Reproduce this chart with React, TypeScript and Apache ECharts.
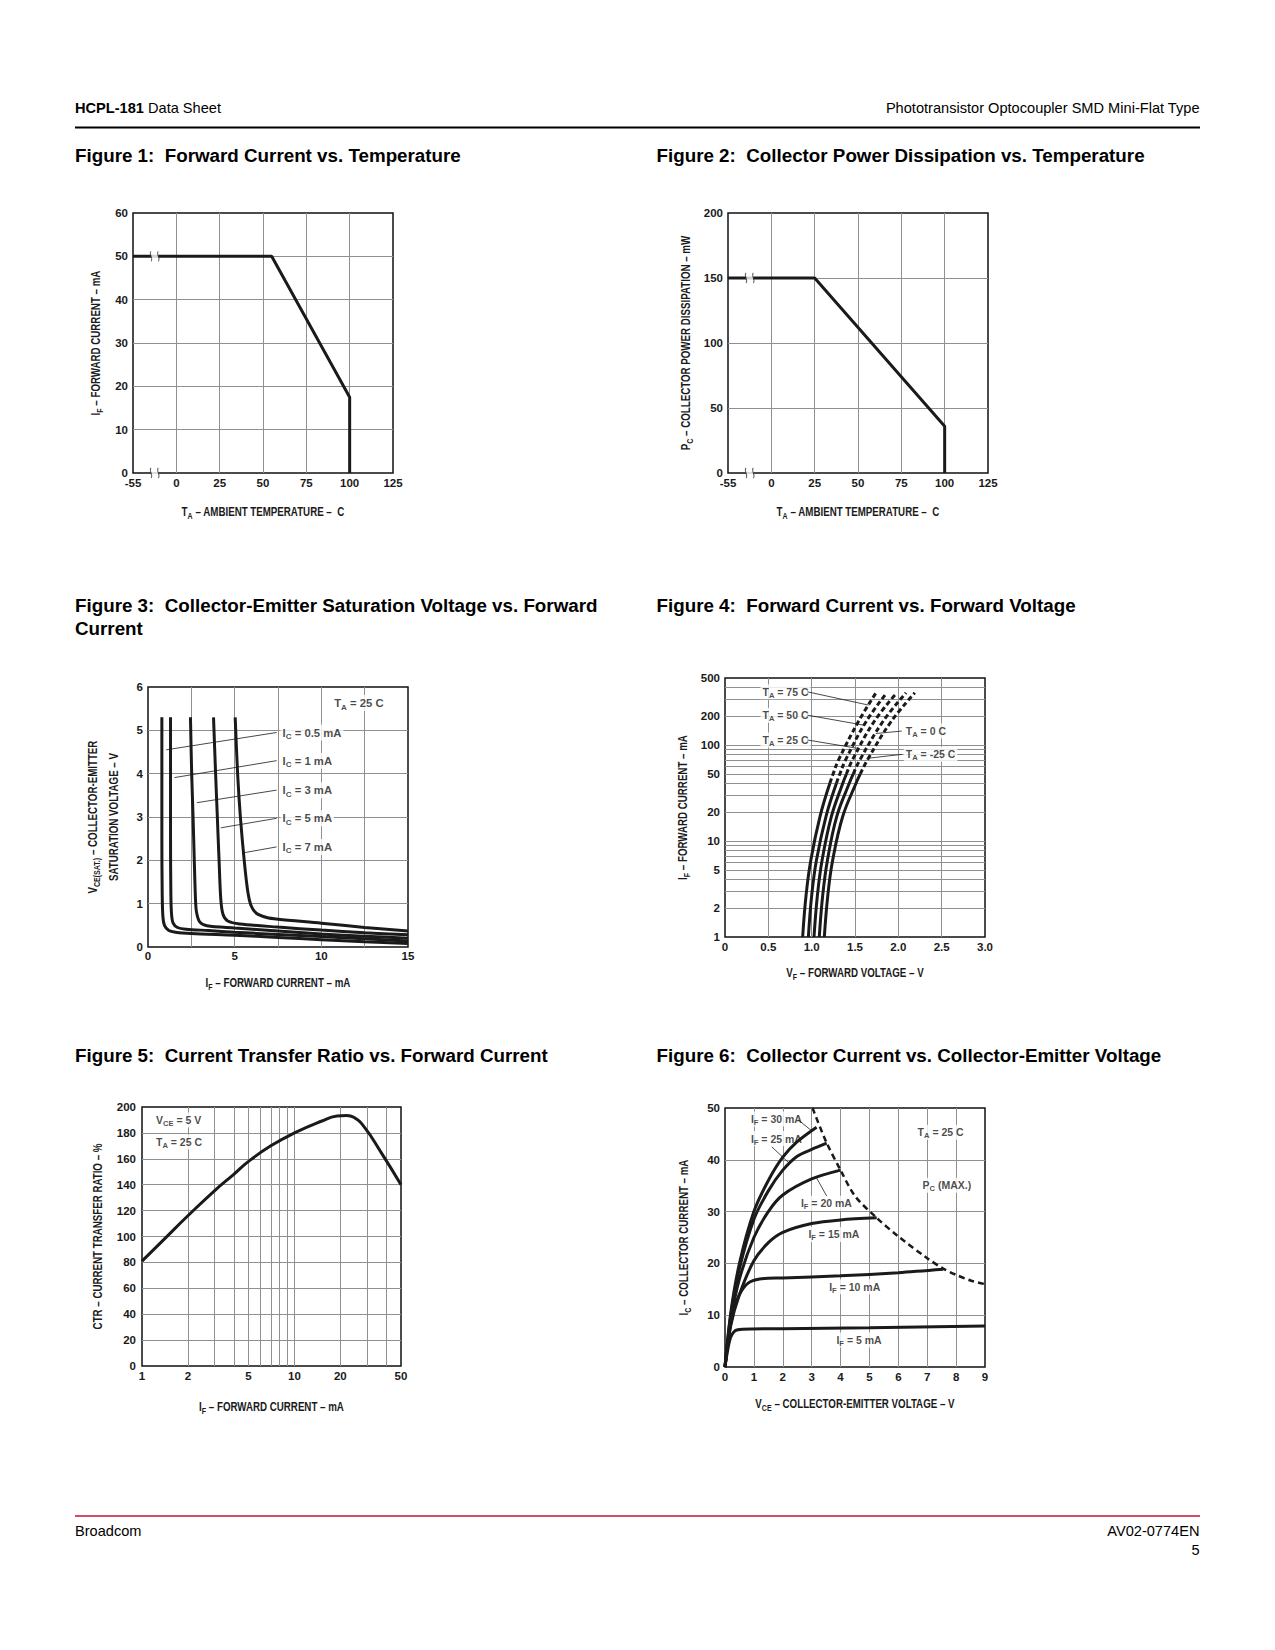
import React, { useEffect, useRef } from "react";
import * as echarts from "echarts";

// ================= DATA =================
// Figure 1: forward current vs temperature
const f1Temp = [-55, 55, 100, 100];
const f1Current = [50, 50, 17.5, 0];
const f1YMax = 60;
// Figure 2: collector power dissipation vs temperature
const f2Temp = [-55, 25, 100, 100];
const f2Power = [150, 150, 36, 0];
const f2YMax = 200;
const tempTicks = [-55, 0, 25, 50, 75, 100, 125];
const breakTemp = -27.5; // axis-break mark position (between -55 and 0)

// Figure 3: VCE(sat) vs IF, one curve per IC
const f3IcNames = ["0.5", "1", "3", "5", "7"];
const f3If05 = [0.8, 0.8, 0.82, 0.86, 0.95, 1.2, 1.6, 2.5, 5, 7.5, 10, 12.5, 15];
const f3V05 = [5.3, 2.5, 1.2, 0.7, 0.5, 0.38, 0.34, 0.31, 0.27, 0.22, 0.17, 0.12, 0.08];
const f3If1 = [1.3, 1.3, 1.32, 1.36, 1.45, 1.7, 2.2, 3.5, 5, 7.5, 10, 12.5, 15];
const f3V1 = [5.3, 2.5, 1.2, 0.75, 0.55, 0.45, 0.41, 0.38, 0.34, 0.29, 0.24, 0.19, 0.14];
const f3If3 = [2.45, 2.52, 2.6, 2.67, 2.74, 2.8, 2.98, 3.4, 5, 7.5, 10, 12.5, 15];
const f3V3 = [5.3, 4, 3, 2, 1.1, 0.8, 0.58, 0.49, 0.44, 0.37, 0.3, 0.25, 0.2];
const f3If5 = [3.78, 3.9, 4.0, 4.1, 4.2, 4.33, 4.6, 5.3, 7.5, 10, 12.5, 15];
const f3V5 = [5.3, 4, 3, 2, 1.1, 0.75, 0.6, 0.53, 0.46, 0.39, 0.33, 0.28];
const f3If7 = [5.03, 5.17, 5.33, 5.55, 5.75, 5.95, 6.25, 6.85, 7.5, 10, 12.5, 15];
const f3V7 = [5.3, 4, 3, 2, 1.3, 0.95, 0.78, 0.68, 0.64, 0.55, 0.45, 0.37];
const f3LabelX = 7.62;
const f3LabelY = [4.95, 4.3, 3.62, 2.97, 2.31];
const f3LeaderFromX = 7.42;
const f3LeaderToX = [1.05, 1.53, 2.82, 4.2, 5.6];
const f3LeaderToY = [4.55, 3.91, 3.33, 2.75, 2.18];

// Figure 4: IF vs VF (log IF), one curve per TA
const f4TempNames = ["75", "50", "25", "0", "-25"];
const f4If = [1, 2.7, 6.3, 18, 40, 50, 70, 175, 350];
const f4V75 = [0.896, 0.935, 0.99, 1.096, 1.21, 1.247, 1.31, 1.538, 1.742];
const f4V50 = [0.962, 1.0, 1.055, 1.165, 1.286, 1.325, 1.391, 1.627, 1.866];
const f4V25 = [1.027, 1.066, 1.12, 1.227, 1.359, 1.401, 1.47, 1.719, 1.981];
const f4V0 = [1.088, 1.127, 1.182, 1.289, 1.434, 1.48, 1.556, 1.82, 2.088];
const f4Vm25 = [1.146, 1.186, 1.242, 1.358, 1.512, 1.561, 1.643, 1.915, 2.19];
const f4SolidEnd = [4, 4, 5, 5, 5];
const f4YLabels = [1, 2, 5, 10, 20, 50, 100, 200, 500];
const f4YGrid = [1, 2, 3, 4, 5, 6, 7, 8, 9, 10, 20, 30, 40, 50, 60, 70, 80, 90, 100, 200, 300, 400, 500];
const f4LabelX = [0.404, 0.404, 0.404, 2.057, 2.057];
const f4LabelY = [359, 205, 113, 140, 80];
const f4LeaderFromX = [0.95, 0.95, 0.95, 2.04, 2.04];
const f4LeaderToX = [1.656, 1.606, 1.545, 1.739, 1.655];
const f4LeaderToY = [261, 161, 92, 132, 73];

// Figure 5: CTR vs IF (log IF)
const f5If = [1, 1.4, 2, 3, 4, 5, 7, 10, 15, 19, 22, 24.5, 28.5, 37, 50];
const f5Ctr = [81, 98, 116, 135.5, 148, 158, 170, 180, 189, 193, 193.5, 192, 185, 165, 140];
const f5XLabels = [1, 2, 5, 10, 20, 50];
const f5XGrid = [1, 2, 3, 4, 5, 6, 7, 8, 9, 10, 20, 30, 40, 50];

// Figure 6: IC vs VCE, one curve per IF
const f6Vce5 = [0, 0.1, 0.2, 0.35, 0.6, 2, 5, 9];
const f6Ic5 = [0, 3.5, 5.8, 7.0, 7.3, 7.4, 7.6, 7.9];
const f6Vce10 = [0, 0.1, 0.3, 0.5, 0.8, 1.2, 2, 4, 6, 7.55];
const f6Ic10 = [0, 5, 11, 14, 16.2, 17, 17.2, 17.6, 18.2, 18.85];
const f6Vce15 = [0, 0.2, 0.5, 1, 1.5, 2, 3, 4, 5.25];
const f6Ic15 = [0, 8, 14, 20.5, 24, 26, 27.7, 28.4, 28.8];
const f6Vce20 = [0, 0.2, 0.5, 1, 1.5, 2, 3, 4];
const f6Ic20 = [0, 9, 17, 25, 30, 33.2, 36.3, 38];
const f6Vce25 = [0, 0.2, 0.5, 1, 1.5, 2, 2.5, 3, 3.52];
const f6Ic25 = [0, 10, 19, 28.5, 34, 38, 40.7, 42, 43.2];
const f6Vce30 = [0, 0.2, 0.5, 1, 1.5, 2, 2.5, 3.17];
const f6Ic30 = [0, 10.5, 20, 30, 36, 40.5, 43.5, 46.3];
const f6PmaxV = [3.03, 3.5, 4, 4.5, 5.25, 6, 7, 7.55, 8, 8.5, 9];
const f6PmaxI = [50, 43.5, 38, 33, 28.8, 25.2, 21, 19, 17.8, 16.7, 16];

// ================= STYLE =================
const INK = "#1a1a1a";
const GRID = "#8f8f8f";
const F = "'Liberation Sans',Arial,Helvetica,sans-serif";
const SANS = "'Liberation Sans',Arial,Helvetica,sans-serif";
const BREAK_PATH = "path://M2,0 C0,3 4,7 2,10 M7,0 C5,3 9,7 7,10";
const NAME_SCALE = 0.78;

const rich = (fs: number, lh: number) => ({
  m: { fontFamily: F, fontWeight: "bold", fontSize: fs, lineHeight: lh, color: INK, fill: INK },
  m2: { fontFamily: F, fontWeight: "bold", fontSize: fs, lineHeight: lh, color: INK, fill: INK },
  s: { fontFamily: F, fontWeight: "bold", fontSize: Math.round(fs * 0.72 * 10) / 10, lineHeight: Math.round(lh * 0.55), verticalAlign: "bottom", color: INK, fill: INK },
});
const sub = (a: string, b: string, c: string) => `{m|${a}}{s|${b}}{m|${c}}`;

const tpos = (t: number) => (t < 0 ? (t * 25) / 55 : t);
const zip = (xs: number[], ys: number[]) => xs.map((x, i) => [x, ys[i]]);

function makeAxis(gi: number, o: any) {
  return {
    type: "value",
    gridIndex: gi,
    axisLine: { show: false },
    axisTick: { show: false, ...(o.tickCustom ? { customValues: o.tickCustom } : {}) },
    splitLine: { show: true, showMinLine: false, showMaxLine: false, lineStyle: { color: GRID, width: 1 } },
    axisLabel: {
      fontFamily: F, fontWeight: "bold", fontSize: 11.5, color: INK, margin: o.margin,
      formatter: o.formatter,
      ...(o.labelCustom ? { customValues: o.labelCustom } : {}),
    },
    min: o.min, max: o.max,
    ...(o.interval !== undefined ? { interval: o.interval } : {}),
  };
}

function curve(gi: number, data: number[][], o: any = {}) {
  return {
    type: "line", xAxisIndex: gi, yAxisIndex: gi, data, symbol: "none", silent: true,
    smooth: o.smooth ?? 0, z: 3,
    lineStyle: { color: INK, width: o.width ?? 3, type: o.dash ?? "solid", cap: "butt" },
  };
}

function leader(gi: number, x1: number, y1: number, x2: number, y2: number) {
  return {
    type: "line", xAxisIndex: gi, yAxisIndex: gi, data: [[x1, y1], [x2, y2]], symbol: "none", silent: true, z: 3,
    lineStyle: { color: INK, width: 0.8 },
  };
}

function labels(gi: number, fs: number, pts: { x: number; y: number; t: string }[]) {
  return {
    type: "scatter", xAxisIndex: gi, yAxisIndex: gi, symbolSize: 1, silent: true, z: 2,
    itemStyle: { color: "rgba(0,0,0,0)" },
    data: pts.map((p) => ({
      value: [p.x, p.y],
      label: {
        show: true, formatter: p.t, position: "right", distance: 0, backgroundColor: "#fff", padding: [0, 2],
        fontFamily: F, fontWeight: "bold", fontSize: fs, color: INK,
        rich: rich(fs, Math.round(fs * 1.4)),
      },
    })),
  };
}

function breakMarks(gi: number, ys: number[]) {
  const d = ys.map((y) => [tpos(breakTemp), y]);
  return [
    { type: "scatter", xAxisIndex: gi, yAxisIndex: gi, data: d, symbol: "rect", symbolSize: [7, 8], silent: true, z: 4, itemStyle: { color: "#fff" } },
    { type: "scatter", xAxisIndex: gi, yAxisIndex: gi, data: d, symbol: BREAK_PATH, symbolSize: [9, 10], silent: true, z: 5, itemStyle: { color: "rgba(0,0,0,0)", borderColor: "#333", borderWidth: 1 } },
  ];
}

function buildOption() {
  const grids = [
    { left: 133, top: 213, width: 260, height: 260 },
    { left: 728, top: 213, width: 260, height: 260 },
    { left: 148, top: 687, width: 260, height: 260 },
    { left: 725, top: 678, width: 260, height: 259 },
    { left: 142, top: 1107, width: 259, height: 259 },
    { left: 725, top: 1108, width: 260, height: 259 },
  ].map((g) => ({ ...g, show: true, borderColor: "#111", borderWidth: 1.5, backgroundColor: "transparent", containLabel: false, outerBoundsMode: "none" }));

  const tempFmt = (v: number) => (v === -25 ? String(tempTicks[0]) : String(v));
  const lg = (v: number) => Math.log10(v);
  const pw = (v: number) => String(Math.round(Math.pow(10, v)));
  const str = (v: number) => String(v);

  const xAxis = [
    makeAxis(0, { min: -25, max: 125, interval: 25, margin: 4, formatter: tempFmt }),
    makeAxis(1, { min: -25, max: 125, interval: 25, margin: 4, formatter: tempFmt }),
    makeAxis(2, { min: 0, max: 15, interval: 2.5, margin: 3, formatter: (v: number) => (v % 5 === 0 ? String(v) : "") }),
    makeAxis(3, { min: 0, max: 3, interval: 0.5, margin: 4, formatter: (v: number) => (v === 0 ? "0" : v.toFixed(1)) }),
    makeAxis(4, { min: 0, max: lg(50), margin: 4, formatter: pw, labelCustom: f5XLabels.map(lg), tickCustom: f5XGrid.map(lg) }),
    makeAxis(5, { min: 0, max: 9, interval: 1, margin: 4, formatter: str }),
  ];
  const yAxis = [
    makeAxis(0, { min: 0, max: f1YMax, interval: 10, margin: 5, formatter: str }),
    makeAxis(1, { min: 0, max: f2YMax, interval: 50, margin: 5, formatter: str }),
    makeAxis(2, { min: 0, max: 6, interval: 1, margin: 5, formatter: str }),
    makeAxis(3, { min: 0, max: lg(500), margin: 5, formatter: pw, labelCustom: f4YLabels.map(lg), tickCustom: f4YGrid.map(lg) }),
    makeAxis(4, { min: 0, max: 200, interval: 20, margin: 6, formatter: str }),
    makeAxis(5, { min: 0, max: 50, interval: 10, margin: 5, formatter: str }),
  ];

  const series: any[] = [];
  // Figure 1
  series.push(curve(0, f1Temp.map((t, i) => [tpos(t), f1Current[i]]), { width: 3 }));
  series.push(...breakMarks(0, [f1Current[0], 0]));
  // Figure 2
  series.push(curve(1, f2Temp.map((t, i) => [tpos(t), f2Power[i]]), { width: 3 }));
  series.push(...breakMarks(1, [f2Power[0], 0]));

  // Figure 3
  const f3 = [zip(f3If05, f3V05), zip(f3If1, f3V1), zip(f3If3, f3V3), zip(f3If5, f3V5), zip(f3If7, f3V7)];
  f3.forEach((d) => series.push(curve(2, d, { smooth: 0.3, width: 3 })));
  f3IcNames.forEach((n, i) => series.push(leader(2, f3LeaderFromX, f3LabelY[i], f3LeaderToX[i], f3LeaderToY[i])));
  series.push(labels(2, 11.3, [
    ...f3IcNames.map((n, i) => ({ x: f3LabelX, y: f3LabelY[i], t: sub("I", "C", ` = ${n} mA`) })),
    { x: 10.6, y: 5.63, t: sub("T", "A", " = 25 C") },
  ]));

  // Figure 4
  const f4 = [f4V75, f4V50, f4V25, f4V0, f4Vm25];
  f4.forEach((vs, k) => {
    const pts = vs.map((v, i) => [v, lg(f4If[i])]);
    const e = f4SolidEnd[k];
    series.push(curve(3, pts.slice(0, e + 1), { smooth: 0.4, width: 3 }));
    series.push(curve(3, pts.slice(e), { smooth: 0.4, width: 3, dash: [5, 3] }));
  });
  f4TempNames.forEach((n, i) => series.push(leader(3, f4LeaderFromX[i], lg(f4LabelY[i]), f4LeaderToX[i], lg(f4LeaderToY[i]))));
  series.push(labels(3, 10.5, f4TempNames.map((n, i) => ({ x: f4LabelX[i], y: lg(f4LabelY[i]), t: sub("T", "A", ` = ${n} C`) }))));

  // Figure 5
  series.push(curve(4, f5If.map((v, i) => [lg(v), f5Ctr[i]]), { smooth: 0.5, width: 3 }));
  series.push(labels(4, 10.5, [
    { x: lg(1.19), y: 190, t: sub("V", "CE", " = 5 V") },
    { x: lg(1.19), y: 173, t: sub("T", "A", " = 25 C") },
  ]));

  // Figure 6
  const f6 = [zip(f6Vce5, f6Ic5), zip(f6Vce10, f6Ic10), zip(f6Vce15, f6Ic15), zip(f6Vce20, f6Ic20), zip(f6Vce25, f6Ic25), zip(f6Vce30, f6Ic30)];
  f6.forEach((d) => series.push(curve(5, d, { smooth: 0.3, width: 3 })));
  series.push(curve(5, zip(f6PmaxV, f6PmaxI), { smooth: 0.3, width: 2.5, dash: [6, 4] }));
  series.push(leader(5, 2.54, 47.7, 3.0, 45.6));
  series.push(leader(5, 1.62, 42.5, 2.25, 39.2));
  series.push(leader(5, 3.17, 36.5, 3.52, 33));
  series.push(labels(5, 10.5, [
    { x: 0.81, y: 47.9, t: sub("I", "F", " = 30 mA") },
    { x: 0.81, y: 44.1, t: sub("I", "F", " = 25 mA") },
    { x: 2.54, y: 31.6, t: sub("I", "F", " = 20 mA") },
    { x: 2.8, y: 25.6, t: sub("I", "F", " = 15 mA") },
    { x: 3.52, y: 15.5, t: sub("I", "F", " = 10 mA") },
    { x: 3.77, y: 5.2, t: sub("I", "F", " = 5 mA") },
    { x: 6.58, y: 45.3, t: sub("T", "A", " = 25 C") },
    { x: 6.75, y: 35.1, t: sub("P", "C", " (MAX.)") },
  ]));

  const title = (x: number, y: number, text: string) => ({
    type: "text", x, y, silent: true,
    style: { text, fill: "#000", fontFamily: SANS, fontWeight: "bold", fontSize: 18.8, textVerticalAlign: "middle", textAlign: "left" },
  });
  const small = (x: number, y: number, text: string, align: string, r?: any) => ({
    type: "text", x, y, silent: true,
    style: { text, fill: "#000", fontFamily: SANS, fontSize: 14.6, textVerticalAlign: "middle", textAlign: align, ...(r ? { rich: r } : {}) },
  });
  // axis titles (condensed look via horizontal scale)
  const axisName = (x: number, y: number, text: string, rotate = false) => ({
    type: "text", x, y, silent: true, rotation: rotate ? Math.PI / 2 : 0, scaleX: NAME_SCALE, scaleY: 1,
    style: { text, rich: rich(12.5, 18), fill: INK, fontFamily: F, fontWeight: "bold", fontSize: 12.5, textAlign: "center", textVerticalAlign: "middle" },
  });

  const graphic = [
    small(75, 108, "{b|HCPL-181} Data Sheet", "left", { b: { fontFamily: SANS, fontWeight: "bold", fontSize: 14.6, fill: "#000" } }),
    small(1199.5, 108, "Phototransistor Optocoupler SMD Mini-Flat Type", "right"),
    { type: "line", silent: true, shape: { x1: 75, y1: 127.5, x2: 1200, y2: 127.5 }, style: { stroke: "#000", lineWidth: 2 } },
    title(75, 155, "Figure 1:  Forward Current vs. Temperature"),
    title(656.5, 155, "Figure 2:  Collector Power Dissipation vs. Temperature"),
    title(75, 605, "Figure 3:  Collector-Emitter Saturation Voltage vs. Forward"),
    title(75, 628, "Current"),
    title(656.5, 605, "Figure 4:  Forward Current vs. Forward Voltage"),
    title(75, 1055, "Figure 5:  Current Transfer Ratio vs. Forward Current"),
    title(656.5, 1055, "Figure 6:  Collector Current vs. Collector-Emitter Voltage"),
    // axis names
    axisName(263, 511.5, sub("T", "A", " – AMBIENT TEMPERATURE –  C")),
    axisName(95.5, 343, sub("I", "F", " – FORWARD CURRENT – mA"), true),
    axisName(858, 511.5, sub("T", "A", " – AMBIENT TEMPERATURE –  C")),
    axisName(686, 343, sub("P", "C", " – COLLECTOR POWER DISSIPATION – mW"), true),
    axisName(278, 983, sub("I", "F", " – FORWARD CURRENT – mA")),
    axisName(92.6, 817, "{m|V}{s|CE(SAT.)}{m| – COLLECTOR-EMITTER}", true),
    axisName(113.6, 817, "{m|SATURATION VOLTAGE – V}", true),
    axisName(855, 973, sub("V", "F", " – FORWARD VOLTAGE – V")),
    axisName(683, 807.5, sub("I", "F", " – FORWARD CURRENT – mA"), true),
    axisName(271.5, 1406.5, sub("I", "F", " – FORWARD CURRENT – mA")),
    axisName(97.5, 1236.5, "{m|CTR – CURRENT TRANSFER RATIO – %}", true),
    axisName(855, 1404, sub("V", "CE", " – COLLECTOR-EMITTER VOLTAGE – V")),
    axisName(684, 1237.5, sub("I", "C", " – COLLECTOR CURRENT – mA"), true),
    // footer
    { type: "line", silent: true, shape: { x1: 75, y1: 1516, x2: 1200, y2: 1516 }, style: { stroke: "#c8102e", lineWidth: 1.5 } },
    small(75, 1531, "Broadcom", "left"),
    small(1199.5, 1531, "AV02-0774EN", "right"),
    small(1199.5, 1550, "5", "right"),
  ];

  return { animation: false, backgroundColor: "#fff", grid: grids, xAxis, yAxis, series, graphic };
}

export default function App() {
  const ref = useRef<HTMLDivElement>(null);
  useEffect(() => {
    if (!ref.current) return;
    const chart = echarts.init(ref.current, null, { renderer: "svg" });
    chart.setOption(buildOption() as any);
    return () => chart.dispose();
  }, []);
  return <div ref={ref} style={{ position: "absolute", left: 0, top: 0, width: 1275, height: 1650, background: "#fff" }} />;
}
